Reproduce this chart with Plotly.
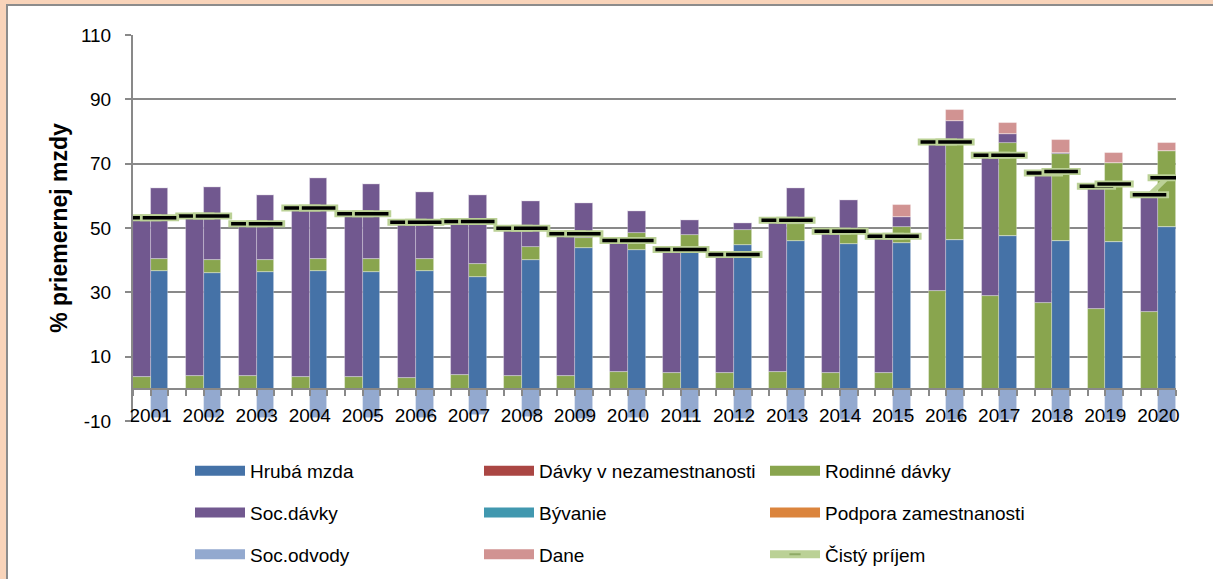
import plotly.graph_objects as go

# ---------------- data ----------------
years = [2001, 2002, 2003, 2004, 2005, 2006, 2007, 2008, 2009, 2010,
         2011, 2012, 2013, 2014, 2015, 2016, 2017, 2018, 2019, 2020]
year_labels = [str(y) for y in years]
y_tick_values = [-10, 10, 30, 50, 70, 90, 110]
y_tick_labels = ["-10", "10", "30", "50", "70", "90", "110"]

# employed household (right bar of each year)
hruba_mzda_E = [36.7, 36.0, 36.2, 36.5, 36.4, 36.7, 34.9, 40.1, 43.9, 43.3,
                43.2, 44.7, 45.9, 45.1, 45.4, 46.4, 47.6, 46.0, 45.7, 50.4]
rodinne_E = [3.6, 4.0, 4.0, 3.8, 3.9, 3.6, 4.0, 3.9, 3.0, 5.2,
             4.6, 4.8, 5.3, 2.9, 4.8, 30.5, 28.9, 27.1, 24.5, 23.4]
soc_davky_E = [22.0, 22.6, 20.2, 25.1, 23.4, 21.0, 21.4, 14.5, 10.8, 6.9,
               4.8, 2.0, 11.2, 10.8, 3.3, 6.3, 2.7, 0.3, 0.0, 0.0]
dane_E = [0, 0, 0, 0, 0, 0, 0, 0, 0, 0,
          0, 0, 0, 0, 3.6, 3.6, 3.5, 4.1, 3.2, 2.6]
soc_odvody_E = [-9.1, -9.0, -9.1, -9.2, -9.2, -9.2, -8.1, -8.6, -9.3, -9.2,
                -9.2, -9.4, -9.6, -9.6, -9.7, -9.8, -9.8, -9.8, -9.8, -10.5]
cisty_E = [53.2, 53.7, 51.3, 56.2, 54.4, 51.8, 52.0, 49.9, 48.2, 46.1,
           43.3, 41.8, 52.4, 49.0, 47.4, 76.7, 72.6, 67.6, 63.7, 65.6]

# unemployed household (left bar of each year)
rodinne_U = [3.6, 4.1, 4.0, 3.8, 3.6, 3.5, 4.3, 4.1, 4.0, 5.3,
             4.9, 4.9, 5.3, 4.9, 4.9, 30.4, 29.0, 26.8, 24.8, 23.8]
soc_davky_U = [49.6, 49.6, 47.3, 52.4, 50.8, 48.3, 47.7, 45.8, 44.2, 40.8,
               38.4, 36.9, 47.1, 44.1, 42.5, 46.3, 43.6, 40.3, 38.2, 36.5]
cisty_U = [53.2, 53.7, 51.3, 56.2, 54.4, 51.8, 52.0, 49.9, 48.2, 46.1,
           43.3, 41.8, 52.4, 49.0, 47.4, 76.7, 72.6, 67.1, 63.0, 60.3]

zeros = [0] * len(years)

# ---------------- styling ----------------
FONT = "Liberation Sans, Arial, sans-serif"
C_HRUBA = "#4572A7"
C_DAVKY_NEZ = "#AA4643"
C_RODINNE = "#89A54E"
C_SOC = "#71588F"
C_BYV = "#4198AF"
C_PODPORA = "#DB843D"
C_ODVODY = "#93A9CF"
C_DANE = "#D19392"
C_CISTY = "#BBD196"
GRID = "#898989"

# category positions: for each year -> unemployed bar, employed bar, empty slot
xU = [3 * i for i in range(len(years))]
xE = [3 * i + 1 for i in range(len(years))]


def pair(u_vals, e_vals):
    xs, ys = [], []
    for a, b, u, e in zip(xU, xE, u_vals, e_vals):
        xs += [a, b]
        ys += [u, e]
    return xs, ys


fig = go.Figure()

bar_series = [
    ("Hrubá mzda", zeros, hruba_mzda_E, C_HRUBA),
    ("Dávky v nezamestnanosti", zeros, zeros, C_DAVKY_NEZ),
    ("Rodinné dávky", rodinne_U, rodinne_E, C_RODINNE),
    ("Soc.dávky", soc_davky_U, soc_davky_E, C_SOC),
    ("Bývanie", zeros, zeros, C_BYV),
    ("Podpora zamestnanosti", zeros, zeros, C_PODPORA),
    ("Soc.odvody", zeros, soc_odvody_E, C_ODVODY),
    ("Dane", zeros, dane_E, C_DANE),
]
for name, u, e, col in bar_series:
    xs, ys = pair(u, e)
    fig.add_trace(go.Bar(
        x=xs, y=ys, width=1, name=name, showlegend=False,
        marker=dict(color=col, line=dict(color="rgba(255,255,255,0.35)", width=0.8)),
        hoverinfo="skip" if all(v == 0 for v in ys) else None,
    ))

# net income line (connected within a year, gaps between years)
lx, ly = [], []
for a, b, u, e in zip(xU, xE, cisty_U, cisty_E):
    lx += [a, b, None]
    ly += [u, e, None]
fig.add_trace(go.Scatter(x=lx, y=ly, mode="lines", connectgaps=False,
                         line=dict(color=C_CISTY, width=5), showlegend=False,
                         name="Čistý príjem"))
# markers: green outline then black dash, unemployed first then employed
for xs_, ys_ in ((xU, cisty_U), (xE, cisty_E)):
    fig.add_trace(go.Scatter(x=xs_, y=ys_, mode="markers", showlegend=False,
                             marker=dict(symbol="line-ew", size=28,
                                         line=dict(color=C_CISTY, width=7)),
                             hoverinfo="skip"))
    fig.add_trace(go.Scatter(x=xs_, y=ys_, mode="markers", showlegend=False,
                             marker=dict(symbol="line-ew", size=24,
                                         line=dict(color="#000000", width=3.5)),
                             name="Čistý príjem"))

# legend entries (three columns)
legend_cols = [
    ("legend", [("Hrubá mzda", C_HRUBA), ("Soc.dávky", C_SOC), ("Soc.odvody", C_ODVODY)]),
    ("legend2", [("Dávky v nezamestnanosti", C_DAVKY_NEZ), ("Bývanie", C_BYV), ("Dane", C_DANE)]),
    ("legend3", [("Rodinné dávky", C_RODINNE), ("Podpora zamestnanosti", C_PODPORA)]),
]
for lg, items in legend_cols:
    for name, col in items:
        fig.add_trace(go.Scatter(x=[None], y=[None], mode="lines", name=name,
                                 legend=lg, legendgroup=name,
                                 line=dict(color=col, width=12)))
fig.add_trace(go.Scatter(x=[None], y=[None], mode="lines+markers", name="Čistý príjem",
                         legend="legend3", legendgroup="Čistý príjem",
                         line=dict(color=C_CISTY, width=8),
                         marker=dict(symbol="line-ew", size=8,
                                     line=dict(color="#8FAA66", width=2))))

W, H = 1213, 579
ML, MR, MT, MB = 133, 37, 35, 158
PW, PH = W - ML - MR, H - MT - MB


def px_x(p):
    return (p - ML) / PW


def px_y(p):
    return (H - MB - p) / PH


leg_common = dict(orientation="v", xanchor="left", yanchor="top",
                  font=dict(family=FONT, size=19, color="#000000"),
                  itemwidth=50, tracegroupgap=14, bgcolor="rgba(0,0,0,0)",
                  itemclick=False, itemdoubleclick=False)

fig.update_layout(
    width=W, height=H,
    margin=dict(l=ML, r=MR, t=MT, b=MB, pad=0, autoexpand=False),
    paper_bgcolor="#F9D4BA",
    plot_bgcolor="#FFFFFF",
    barmode="relative",
    bargap=0,
    font=dict(family=FONT, color="#000000"),
    legend=dict(x=px_x(190), y=px_y(452), **leg_common),
    legend2=dict(x=px_x(479), y=px_y(452), **leg_common),
    legend3=dict(x=px_x(765), y=px_y(452), **leg_common),
    shapes=[dict(type="rect", xref="paper", yref="paper", layer="below",
                 x0=px_x(7), x1=px_x(1225), y0=px_y(595), y1=px_y(5),
                 fillcolor="#FFFFFF", line=dict(color="#8C8C8C", width=2))],
)

fig.update_xaxes(
    range=[-0.5, 3 * (len(years) - 1) + 1.5],
    anchor="free", position=10 / 120,
    tickmode="array", tickvals=[3 * i + 0.5 for i in range(len(years))],
    ticktext=year_labels,
    ticks="outside", ticklen=6, tickwidth=1.5, tickcolor=GRID,
    minor=dict(ticks="outside", ticklen=6, tickwidth=1.5, tickcolor=GRID,
               dtick=1, tick0=0.5, showgrid=False),
    showline=True, linecolor=GRID, linewidth=2,
    showgrid=False, zeroline=False,
    tickfont=dict(family=FONT, size=19, color="#000000"),
    ticklabelstandoff=3,
)
fig.update_yaxes(
    range=[-10, 110], tickmode="array", tickvals=y_tick_values, ticktext=y_tick_labels,
    showgrid=True, gridcolor=GRID, gridwidth=1.5,
    showline=True, linecolor=GRID, linewidth=2,
    ticks="outside", ticklen=6, tickwidth=1.5, tickcolor=GRID,
    zeroline=False,
    tickfont=dict(family=FONT, size=19, color="#000000"),
    ticklabelstandoff=10,
    title=dict(text="<b>% priemernej mzdy</b>", standoff=7,
               font=dict(family=FONT, size=23, color="#000000")),
)

fig.write_html("out.html",
               config={"displayModeBar": False},
               post_script="document.body.style.margin='0';document.body.style.background='#F9D4BA';")
